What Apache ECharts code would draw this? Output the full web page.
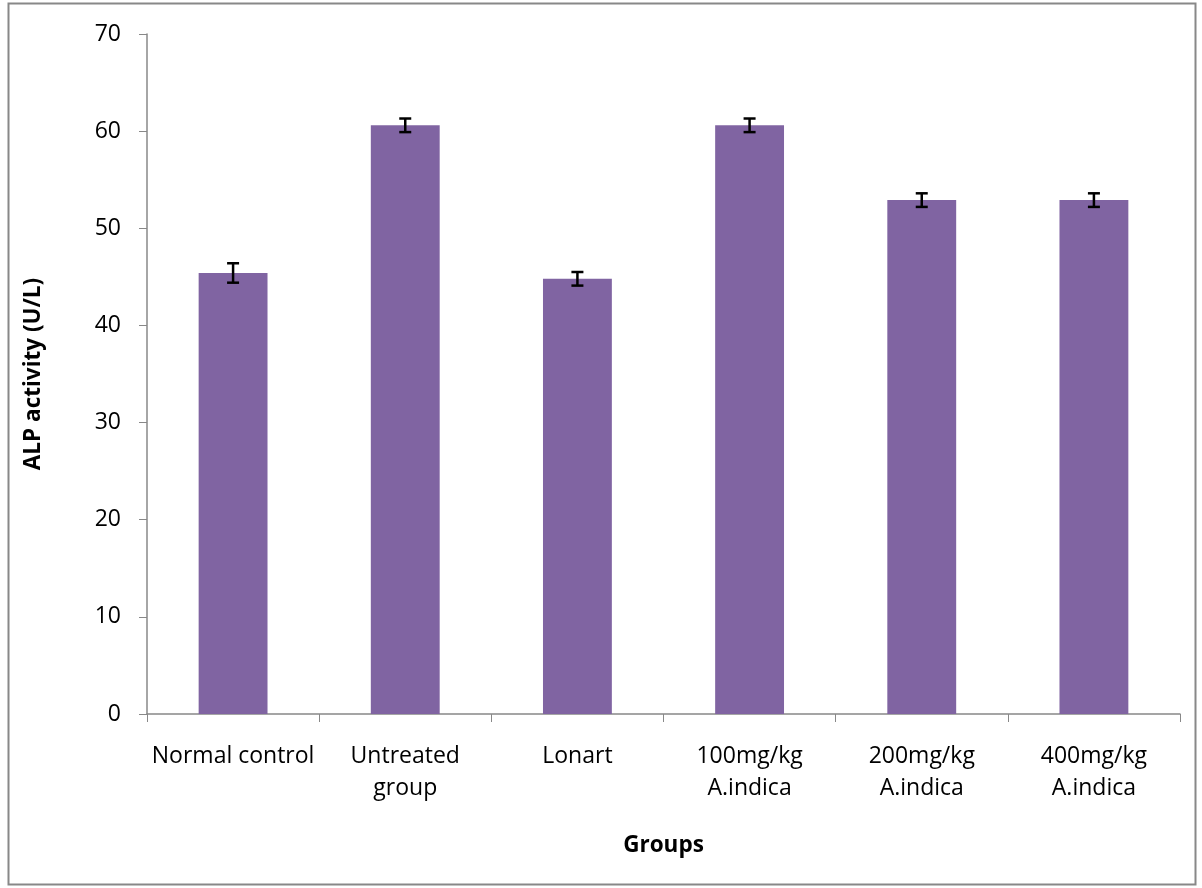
<!DOCTYPE html>
<html><head><meta charset="utf-8">
<script src="https://cdn.jsdelivr.net/npm/echarts@6/dist/echarts.min.js"></script>
<style>html,body{margin:0;padding:0;background:#fff}#c{width:1202px;height:888px}</style>
</head><body><div id="c"></div>
<script>
const categories = ['Normal control', 'Untreated\ngroup', 'Lonart', '100mg/kg\nA.indica', '200mg/kg\nA.indica', '400mg/kg\nA.indica'];
const values = [45.4, 60.6, 44.8, 60.6, 52.9, 52.9];
const errors = [1.0, 0.7, 0.7, 0.7, 0.7, 0.7];
const yTicks = [0, 10, 20, 30, 40, 50, 60, 70];

const chart = echarts.init(document.getElementById('c'));
const font = 'Open Sans';
chart.setOption({
  animation: false,
  graphic: [{type: 'rect', shape: {x: 8.5, y: 3.5, width: 1187, height: 881}, style: {fill: 'none', stroke: '#888', lineWidth: 2}}],
  grid: {left: 147, right: 22, top: 34, bottom: 174},
  xAxis: {
    type: 'category', data: categories,
    name: 'Groups', nameLocation: 'middle', nameGap: 120,
    nameTextStyle: {fontFamily: font, fontWeight: 'bold', fontSize: 22.5, color: '#000'},
    axisLine: {lineStyle: {color: '#888', width: 1.5}},
    axisTick: {show: true, length: 8, lineStyle: {color: '#888'}, alignWithLabel: false},
    axisLabel: {fontFamily: font, fontSize: 23, color: '#000', margin: 26, lineHeight: 32, interval: 0}
  },
  yAxis: {
    type: 'value', min: 0, max: 70, interval: 10,
    name: 'ALP activity (U/L)', nameLocation: 'middle', nameGap: 102,
    nameTextStyle: {fontFamily: font, fontWeight: 'bold', fontSize: 22.5, color: '#000'},
    axisLine: {show: true, lineStyle: {color: '#888', width: 1.5}},
    axisTick: {show: true, length: 8, lineStyle: {color: '#888'}},
    splitLine: {show: false},
    axisLabel: {fontFamily: font, fontSize: 23, color: '#000', margin: 26,
      formatter: v => yTicks.includes(v) ? String(v) : ''}
  },
  series: [{
    type: 'bar', data: values, barWidth: '40%',
    itemStyle: {color: '#8064A2'}
  }, {
    type: 'custom',
    data: values.map((v, i) => [i, v - errors[i], v + errors[i]]),
    renderItem: function (params, api) {
      const x = api.value(0);
      const lo = api.coord([x, api.value(1)]);
      const hi = api.coord([x, api.value(2)]);
      const hw = 6;
      const st = {stroke: '#000', lineWidth: 2.5};
      return {type: 'group', children: [
        {type: 'line', shape: {x1: lo[0], y1: lo[1], x2: hi[0], y2: hi[1]}, style: st},
        {type: 'line', shape: {x1: lo[0] - hw, y1: lo[1], x2: lo[0] + hw, y2: lo[1]}, style: st},
        {type: 'line', shape: {x1: hi[0] - hw, y1: hi[1], x2: hi[0] + hw, y2: hi[1]}, style: st}
      ]};
    },
    z: 10
  }]
});
</script></body></html>
